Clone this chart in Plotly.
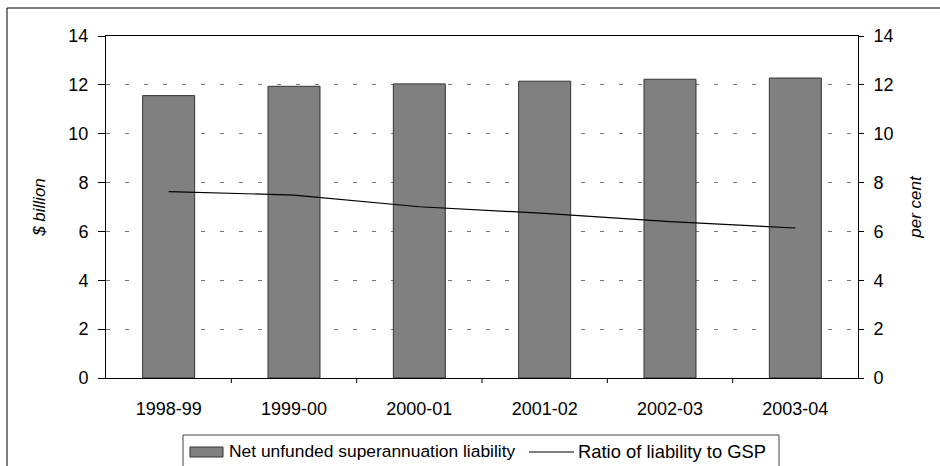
import plotly.graph_objects as go

categories = ["1998-99", "1999-00", "2000-01", "2001-02", "2002-03", "2003-04"]
liability = [11.56, 11.94, 12.04, 12.15, 12.23, 12.28]
ratio = [7.63, 7.49, 7.01, 6.74, 6.40, 6.14]
tick_vals = [0, 2, 4, 6, 8, 10, 12, 14]
bar_name = "Net unfunded superannuation liability"
line_name = "Ratio of liability to GSP"

FONT = "Liberation Sans, Arial, sans-serif"

W, H = 940, 466
L, R, T, B = 106, 82, 36, 88
pw = W - L - R
ph = H - T - B


def px(x):
    return (x - L) / pw


def py(y):
    return (T + ph - y) / ph


fig = go.Figure()
fig.add_trace(go.Bar(
    x=categories, y=liability, name=bar_name,
    marker=dict(color="#808080", line=dict(color="#333333", width=1)),
    yaxis="y",
))
fig.add_trace(go.Scatter(
    x=categories, y=ratio, name=line_name,
    mode="lines", line=dict(color="black", width=1.2), yaxis="y2",
))

fig.update_layout(
    width=W, height=H,
    margin=dict(l=L, r=R, t=T, b=B, autoexpand=False),
    paper_bgcolor="white", plot_bgcolor="white",
    font=dict(family=FONT, size=18, color="black"),
    bargap=0.585,
    showlegend=False,
    xaxis=dict(
        type="category", showgrid=False, showline=True, linecolor="black",
        linewidth=1, mirror=True, ticks="", tickfont=dict(size=18),
        ticklabelstandoff=14,
    ),
    yaxis=dict(
        range=[0, 14], tickvals=tick_vals, showline=True, linecolor="black",
        linewidth=1, ticks="outside", ticklen=7, tickcolor="black",
        ticklabelstandoff=6,
        showgrid=True, gridcolor="#777777", griddash="4px,15px", gridwidth=1.3,
        zeroline=False,
        title=dict(text="<i>$ billion</i>", standoff=18, font=dict(size=17)),
    ),
    yaxis2=dict(
        range=[0, 14], tickvals=tick_vals, overlaying="y", side="right",
        showline=True, linecolor="black", linewidth=1, ticks="outside",
        ticklen=5, tickcolor="black", showgrid=False, zeroline=False,
        ticklabelstandoff=6,
        title=dict(text="<i>per cent</i>", standoff=16, font=dict(size=17)),
    ),
)

# x-axis tick marks at category boundaries
for i in range(1, len(categories)):
    fig.add_shape(type="line", xref="x", yref="paper",
                  x0=i - 0.5, x1=i - 0.5, y0=0, y1=-5 / ph,
                  line=dict(color="black", width=1))

# outer frame
fig.add_shape(type="rect", xref="paper", yref="paper",
              x0=px(7), x1=px(960), y0=py(490), y1=py(8),
              line=dict(color="black", width=1), fillcolor="rgba(0,0,0,0)",
              layer="below")

# legend box (drawn manually so it does not resize the plot area)
fig.add_shape(type="rect", xref="paper", yref="paper",
              x0=px(183), x1=px(779), y0=py(490), y1=py(435),
              line=dict(color="#444444", width=1), fillcolor="white")
fig.add_shape(type="rect", xref="paper", yref="paper",
              x0=px(190), x1=px(223), y0=py(457), y1=py(447),
              line=dict(color="#333333", width=1), fillcolor="#808080")
fig.add_shape(type="line", xref="paper", yref="paper",
              x0=px(529), x1=px(574), y0=py(452), y1=py(452),
              line=dict(color="black", width=1.2))
fig.add_annotation(xref="paper", yref="paper", x=px(227), y=py(451),
                   xanchor="left", yanchor="middle", showarrow=False,
                   text=bar_name, font=dict(size=17.4))
fig.add_annotation(xref="paper", yref="paper", x=px(576), y=py(451),
                   xanchor="left", yanchor="middle", showarrow=False,
                   text=line_name, font=dict(size=18.4))

fig.write_html("out.html",
               config={"displayModeBar": False},
               post_script="document.body.style.margin='0';"
                           "document.body.style.overflow='hidden';")
